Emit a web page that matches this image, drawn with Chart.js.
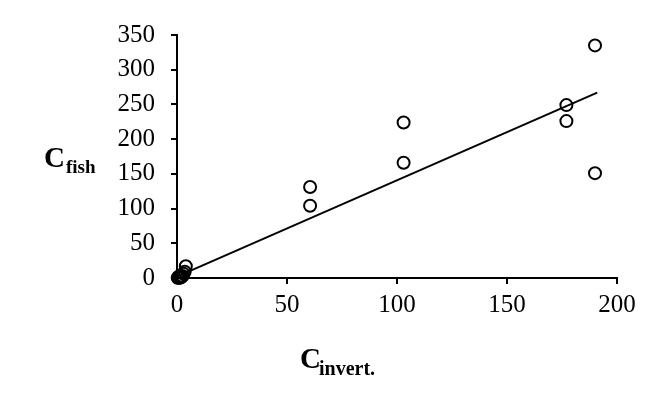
<!DOCTYPE html>
<html>
<head>
<meta charset="utf-8">
<script src="https://cdn.jsdelivr.net/npm/chart.js@4.4.1/dist/chart.umd.min.js"></script>
<style>
    html, body { margin: 0; padding: 0; background: #fff; }
    #wrap { width: 657px; height: 398px; position: relative; }
</style>
</head>
<body>
<div id="wrap"><canvas id="fishChart"></canvas></div>
<script>
const invertX = [190, 190, 177, 177, 103, 103, 60.5, 60.5,
                 0.3, 0.6, 1, 1.5, 2, 2.5, 3, 3.5, 4, 0.8, 1.2];
const fishY = [335, 151, 249, 226, 224, 166, 131, 104,
               0.2, 0.5, 1, 0.8, 1.5, 3, 6, 9, 17, 2, 0.3];

// Regression line end points
const fitX = [0, 191];
const fitY = [2, 267];

// Axis ranges / ticks
const xTicks = [0, 50, 100, 150, 200];
const yTicks = [0, 50, 100, 150, 200, 250, 300, 350];

const serif = '"Liberation Serif", "Times New Roman", serif';

// Draw the axis titles with subscripts
const axisTitles = {
    id: 'axisTitles',
    afterDraw(chart) {
        const ctx = chart.ctx;
        const area = chart.chartArea;
        ctx.save();
        ctx.fillStyle = '#000';
        ctx.textBaseline = 'alphabetic';

        // y title: C_fish
        ctx.font = 'bold 29px ' + serif;
        ctx.fillText('C', 44, 167);
        ctx.font = 'bold 19px ' + serif;
        ctx.fillText('fish', 66, 173);

        // x title: C_invert.
        const cx = (area.left + area.right) / 2 - 97;
        ctx.font = 'bold 29px ' + serif;
        ctx.fillText('C', cx, 368);
        ctx.font = 'bold 20px ' + serif;
        ctx.fillText('invert.', cx + 19, 375);
        ctx.restore();
    }
};

const ctx = document.getElementById('fishChart').getContext('2d');

new Chart(ctx, {
    type: 'scatter',
    data: {
        datasets: [{
            label: 'data',
            data: invertX.map((x, i) => ({ x: x, y: fishY[i] })),
            pointStyle: 'circle',
            pointRadius: 6,
            pointBorderWidth: 2,
            borderColor: '#000',
            backgroundColor: 'rgba(0,0,0,0)',
            clip: false
        }, {
            label: 'fit',
            data: fitX.map((x, i) => ({ x: x, y: fitY[i] })),
            showLine: true,
            pointRadius: 0,
            borderColor: '#000',
            borderWidth: 2,
            clip: false
        }]
    },
    options: {
        responsive: true,
        maintainAspectRatio: false,
        animation: false,
        layout: {
            padding: { top: 35, right: 40, bottom: 0, left: 0 }
        },
        plugins: {
            legend: { display: false },
            tooltip: { enabled: false }
        },
        scales: {
            x: {
                type: 'linear',
                min: xTicks[0],
                max: xTicks[xTicks.length - 1],
                afterBuildTicks: scale => {
                    scale.ticks = xTicks.map(v => ({ value: v }));
                },
                afterFit: scale => { scale.height = 120; },
                grid: {
                    drawOnChartArea: false,
                    drawTicks: true,
                    tickLength: 6,
                    color: '#000',
                    lineWidth: 2
                },
                border: { color: '#000', width: 2 },
                ticks: {
                    color: '#000',
                    padding: 6,
                    font: { family: serif, size: 25 }
                }
            },
            y: {
                type: 'linear',
                min: yTicks[0],
                max: yTicks[yTicks.length - 1],
                afterBuildTicks: scale => {
                    scale.ticks = yTicks.map(v => ({ value: v }));
                },
                afterFit: scale => { scale.width = 177; },
                grid: {
                    drawOnChartArea: false,
                    drawTicks: true,
                    tickLength: 6,
                    color: '#000',
                    lineWidth: 2
                },
                border: { color: '#000', width: 2 },
                ticks: {
                    color: '#000',
                    padding: 16,
                    font: { family: serif, size: 25 }
                }
            }
        }
    },
    plugins: [axisTitles]
});
</script>
</body>
</html>
